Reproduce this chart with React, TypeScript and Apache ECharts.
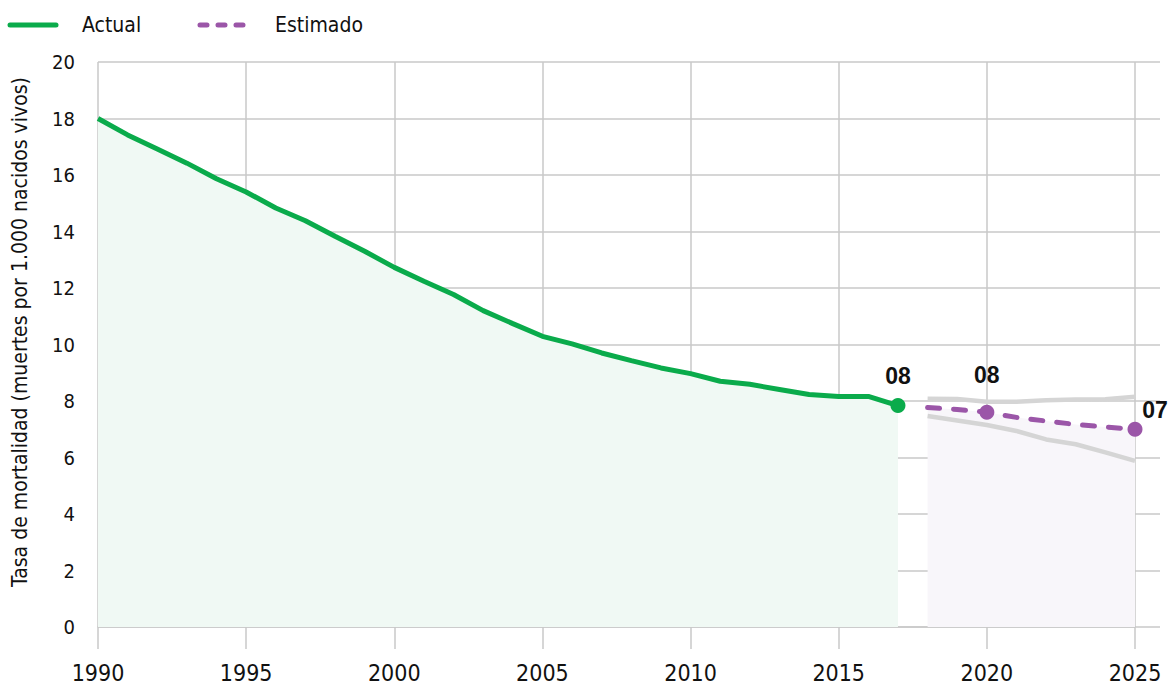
import React, { useEffect, useRef } from "react";
import * as echarts from "echarts";

const actualYears = [1990, 1991, 1992, 1993, 1994, 1995, 1996, 1997, 1998, 1999, 2000, 2001, 2002, 2003, 2004, 2005, 2006, 2007, 2008, 2009, 2010, 2011, 2012, 2013, 2014, 2015, 2016, 2017];
const actualValues = [18.0, 17.42, 16.92, 16.42, 15.87, 15.4, 14.83, 14.38, 13.83, 13.3, 12.73, 12.24, 11.77, 11.2, 10.74, 10.29, 10.02, 9.7, 9.43, 9.17, 8.97, 8.7, 8.59, 8.41, 8.23, 8.16, 8.16, 7.84];
const estYears = [2018, 2019, 2020, 2021, 2022, 2023, 2024, 2025];
const estValues = [7.77, 7.7, 7.6, 7.42, 7.29, 7.17, 7.08, 7.0];
const upperValues = [8.08, 8.07, 7.97, 7.97, 8.03, 8.05, 8.06, 8.15];
const lowerValues = [7.47, 7.31, 7.15, 6.94, 6.64, 6.47, 6.18, 5.88];
const highlightPoints = [
  { year: 2017, value: 7.84, series: "Actual" },
  { year: 2020, value: 7.6, series: "Estimado" },
  { year: 2025, value: 7.0, series: "Estimado" },
];
const yTicks = { min: 0, max: 20, interval: 2 };
const xTicks = { min: 1990, max: 2025, interval: 5 };

const GREEN = "#0aab4b";
const PURPLE = "#9b56a8";
const GRID = "#c9c9c9";
const NARROW = "'DejaVu Sans Condensed', 'DejaVu Sans', sans-serif";

export default function App() {
  const ref = useRef<HTMLDivElement>(null);
  useEffect(() => {
    if (!ref.current) return;
    const chart = echarts.init(ref.current, null, { renderer: "svg" });
    const labelOffsets: Record<number, [number, number]> = {
      2017: [0, -30],
      2020: [0, -37],
      2025: [20, -19],
    };
    chart.setOption({
      animation: false,
      backgroundColor: "#ffffff",
      grid: { left: 98, right: 34, top: 62, bottom: 61 },
      xAxis: {
        type: "value",
        min: xTicks.min,
        max: xTicks.max,
        interval: xTicks.interval,
        axisLine: { show: true, lineStyle: { color: GRID, width: 1.5 } },
        axisTick: { show: true, length: 22, lineStyle: { color: GRID, width: 1.5 } },
        axisLabel: { color: "#111", fontFamily: NARROW, fontSize: 23, margin: 34, formatter: (v: number) => String(v) },
        splitLine: { show: true, lineStyle: { color: GRID, width: 1.5 } },
      },
      yAxis: [
        {
          type: "value",
          min: yTicks.min,
          max: yTicks.max,
          interval: yTicks.interval,
          axisLine: { show: false },
          axisTick: { show: false },
          axisLabel: { color: "#111", fontFamily: NARROW, fontSize: 20, margin: 23 },
          splitLine: { show: true, lineStyle: { color: GRID, width: 1.5 } },
        },
        {
          type: "value",
          position: "right",
          min: yTicks.min,
          max: yTicks.max,
          interval: yTicks.interval,
          axisLine: { show: false },
          axisTick: { show: true, length: 25, lineStyle: { color: GRID, width: 1.5 } },
          axisLabel: { show: false },
          splitLine: { show: false },
        },
      ],
      series: [
        {
          name: "Actual",
          type: "line",
          data: actualYears.map((y, i) => [y, actualValues[i]]),
          showSymbol: false,
          lineStyle: { color: GREEN, width: 5 },
          areaStyle: { color: "#f0f9f4", opacity: 1 },
          z: 3,
        },
        {
          name: "EstimadoArea",
          type: "line",
          data: estYears.map((y, i) => [y, estValues[i]]),
          showSymbol: false,
          lineStyle: { width: 0, opacity: 0 },
          areaStyle: { color: "#f8f6fa", opacity: 1 },
          z: 1,
        },
        {
          name: "Superior",
          type: "line",
          data: estYears.map((y, i) => [y, upperValues[i]]),
          showSymbol: false,
          lineStyle: { color: "#d5d5d5", width: 4.5 },
          z: 2,
        },
        {
          name: "Inferior",
          type: "line",
          data: estYears.map((y, i) => [y, lowerValues[i]]),
          showSymbol: false,
          lineStyle: { color: "#d5d5d5", width: 4.5 },
          z: 2,
        },
        {
          name: "Estimado",
          type: "line",
          data: estYears.map((y, i) => [y, estValues[i]]),
          showSymbol: false,
          lineStyle: { color: PURPLE, width: 5, type: [12, 14], cap: "round" },
          z: 4,
        },
        {
          name: "Puntos",
          type: "scatter",
          symbolSize: 15,
          z: 5,
          itemStyle: { opacity: 1 },
          data: highlightPoints.map((p) => ({
            value: [p.year, p.value],
            itemStyle: { color: p.series === "Actual" ? GREEN : PURPLE, opacity: 1 },
            label: {
              show: true,
              position: "inside",
              offset: labelOffsets[p.year],
              formatter: () => String(Math.round(p.value)).padStart(2, "0"),
              color: "#111",
              opacity: 1,
              fontFamily: "'Liberation Sans', sans-serif",
              fontWeight: "bold",
              fontSize: 23,
            },
          })),
        },
      ],
      graphic: [
        { type: "line", shape: { x1: 10, y1: 25, x2: 56, y2: 25 }, style: { stroke: GREEN, lineWidth: 5, lineCap: "round" } },
        { type: "text", x: 82, y: 25, style: { text: "Actual", fontFamily: NARROW, fontSize: 21, fill: "#111", verticalAlign: "middle" } },
        { type: "line", shape: { x1: 200, y1: 25, x2: 248, y2: 25 }, style: { stroke: PURPLE, lineWidth: 5, lineCap: "round", lineDash: [7, 11] } },
        { type: "text", x: 275, y: 25, style: { text: "Estimado", fontFamily: NARROW, fontSize: 21, fill: "#111", verticalAlign: "middle" } },
        {
          type: "text",
          x: 20,
          y: 332,
          rotation: Math.PI / 2,
          style: { text: "Tasa de mortalidad (muertes por 1.000 nacidos vivos)", fontFamily: NARROW, fontSize: 21, fill: "#111", align: "center", verticalAlign: "middle" },
        },
      ],
    });
    return () => chart.dispose();
  }, []);
  return <div ref={ref} style={{ position: "fixed", left: 0, top: 0, width: 1169, height: 688 }} />;
}
